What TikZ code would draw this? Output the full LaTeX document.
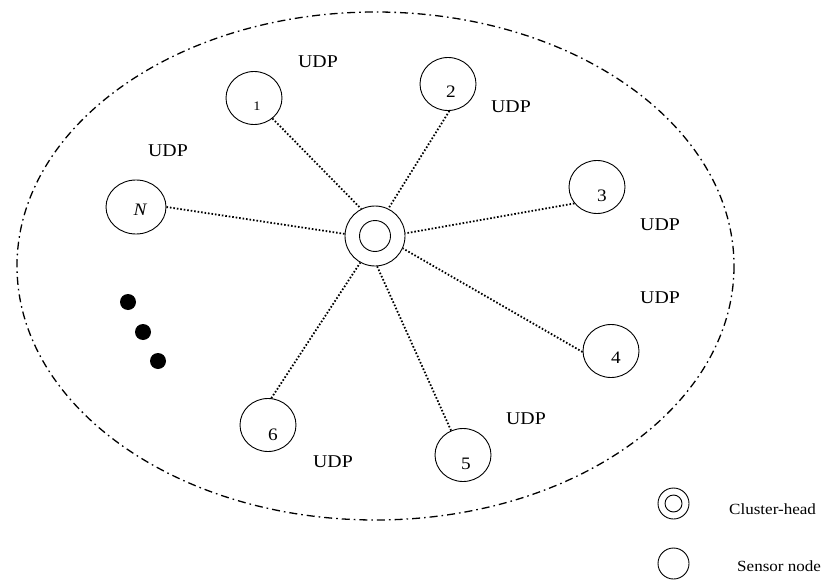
\documentclass[tikz,border=0pt]{standalone}
\usepackage{fontspec}
\setmainfont[FakeStretch=1.1]{Liberation Serif}
\usetikzlibrary{shapes.geometric}
\begin{document}
\begin{tikzpicture}[x=1pt,y=-1pt,
  sensor/.style={draw,ellipse,line width=0.9pt,minimum width=56pt,minimum height=53pt,inner sep=0pt},
  headout/.style={draw,circle,line width=0.9pt,minimum size=60pt,inner sep=0pt},
  headin/.style={draw,circle,line width=0.9pt,minimum size=31pt,inner sep=0pt},
  link/.style={line width=1.8pt,dash pattern=on 1.6pt off 1.9pt},
  tag/.style={inner sep=0pt,font=\fontsize{18}{20}\selectfont},
  num/.style={inner sep=0pt,font=\fontsize{17.5}{20}\selectfont},
  legtext/.style={inner sep=0pt,anchor=west,font=\fontsize{15.5}{18}\selectfont},
  blob/.style={fill=black,circle,inner sep=0pt,minimum size=16pt}]
\useasboundingbox (0,0) rectangle (821,580);

% cluster boundary
\draw[line width=1.3pt,dash pattern=on 8pt off 4pt on 1.6pt off 4pt]
  (375.5,266) ellipse [x radius=358.5, y radius=254];

% cluster-head
\node[headout] (ch) at (375,236) {};
\node[headin] (chi) at (375,236) {};

% sensor nodes
\node[sensor] (n1) at (254,98) {};
\node[sensor] (n2) at (448,84) {};
\node[sensor] (n3) at (597,187) {};
\node[sensor] (n4) at (611,351) {};
\node[sensor] (n5) at (463,455) {};
\node[sensor] (n6) at (268,425) {};
\node[sensor,minimum width=60pt,minimum height=54pt] (nN) at (136,207) {};

% node numbers
\node[num,font=\fontsize{13}{15}\selectfont] (t1) at (257,106) {1};
\node[num] (t2) at (451,92) {2};
\node[num] (t3) at (602,196) {3};
\node[num] (t4) at (616,358) {4};
\node[num] (t5) at (466,464) {5};
\node[num] (t6) at (273,435) {6};
\node[num] (tN) at (140,210) {\itshape N};

% links to the cluster-head
\draw[link] (n1.-48) -- (ch.117);
\draw[link] (n2.-87) -- (ch.64);
\draw[link] (n3.216) -- (ch.5);
\draw[link] (n4.182) -- (ch.-24);
\draw[link] (n5.116) -- (ch.-86);
\draw[link] (n6.83) -- (ch.241);
\draw[link] (nN.0) -- (ch.176);

% protocol tags
\node[tag] (u1) at (318,62) {UDP};
\node[tag] (u2) at (511,107) {UDP};
\node[tag] (uN) at (168,151) {UDP};
\node[tag] (u3) at (660,225) {UDP};
\node[tag] (u4) at (660,298) {UDP};
\node[tag] (u5) at (526,419) {UDP};
\node[tag] (u6) at (333,462) {UDP};

% more nodes
\node[blob] (d1) at (128,302) {};
\node[blob] (d2) at (143,332) {};
\node[blob] (d3) at (158,361) {};

% legend
\node[draw,circle,line width=0.9pt,minimum size=31pt,inner sep=0pt] (lh) at (673.5,503.5) {};
\node[draw,circle,line width=0.9pt,minimum size=17pt,inner sep=0pt] (lhi) at (673.5,503.5) {};
\node[legtext] (lht) at (729,509) {Cluster-head};
\node[draw,circle,line width=0.9pt,minimum size=31pt,inner sep=0pt] (ls) at (673.5,563.5) {};
\node[legtext] (lst) at (737,566) {Sensor node};
\end{tikzpicture}
\end{document}
